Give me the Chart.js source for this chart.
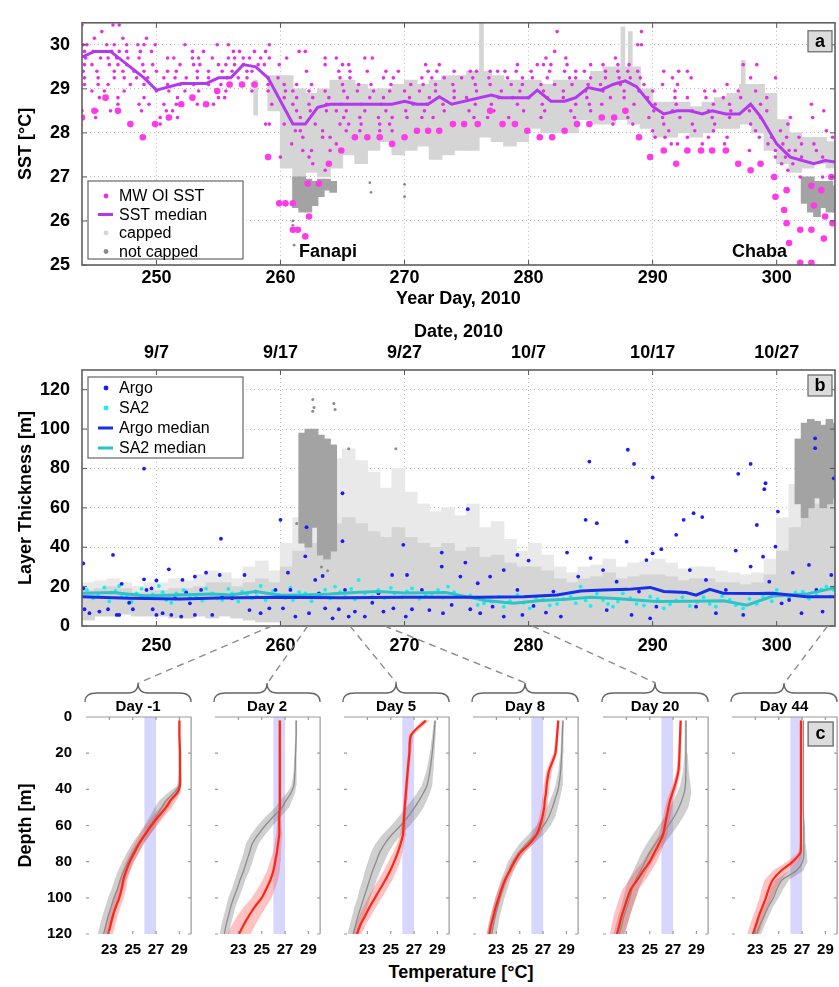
<!DOCTYPE html>
<html>
<head>
<meta charset="utf-8">
<script src="https://cdn.jsdelivr.net/npm/chart.js@4.4.1/dist/chart.umd.min.js"></script>
<style>
  body { margin: 0; width: 839px; height: 987px; position: relative; overflow: hidden; background: #fff;
         font-family: "Liberation Sans", Arial, sans-serif; }
  canvas { position: absolute; }
  #tempTitle { position: absolute; left: 331px; top: 962px; width: 260px; text-align: center;
               font-weight: bold; font-size: 18px; color: #000; }
</style>
</head>
<body>
<canvas id="sstChart" width="839" height="318" style="left:0;top:0"></canvas>
<canvas id="layerChart" width="839" height="345" style="left:0;top:315px"></canvas>
<div id="tempTitle">Temperature [°C]</div>
<canvas id="overlay" width="839" height="987" style="left:0;top:0;pointer-events:none"></canvas>
<script>
// ---------- shared ticks ----------
const dayTicks = [250, 260, 270, 280, 290, 300];
const dateLabels = ['9/7', '9/17', '9/27', '10/7', '10/17', '10/27'];
const sstTicks = [25, 26, 27, 28, 29, 30];
const thickTicks = [0, 20, 40, 60, 80, 100, 120];
const depthTicks = [0, 20, 40, 60, 80, 100, 120];
const tempTicks = [23, 25, 27, 29];

// ---------- panel a: SST ----------
const medianDays = [244, 245, 246.3, 249, 250, 252, 254, 255, 256, 257, 258, 259, 261, 262, 263, 264, 269, 270, 271, 271.9,
  272.8, 273.8, 277, 277.8, 280, 280.7, 281.8, 282.9, 283.8, 284.8, 285.8, 286.8, 287.8, 288.7, 290, 290.9, 292, 293, 294,
  294.8, 295.9, 297, 297.9, 298.7, 300, 301.1, 303, 303.9, 304.9];
const medianSST = [29.72, 29.85, 29.85, 29.25, 28.97, 29.12, 29.12, 29.25, 29.25, 29.55, 29.5, 29.25, 28.2, 28.2, 28.58, 28.65,
  28.65, 28.72, 28.65, 28.65, 28.82, 28.65, 28.86, 28.8, 28.8, 28.97, 28.72, 28.72, 28.8, 29.03, 28.97, 29.1, 29.18, 29.05,
  28.6, 28.43, 28.5, 28.5, 28.43, 28.5, 28.43, 28.43, 28.65, 28.37, 27.75, 27.45, 27.3, 27.37, 27.33];

// small MW OI SST dots sit on 0.15 degC levels
const mwLevels = [30.45, 30.3, 30.15, 30.0, 29.85, 29.7, 29.55, 29.4, 29.25, 29.1, 28.95, 28.8, 28.65, 28.5, 28.35, 28.2,
  28.05, 27.9, 27.75, 27.6, 27.45, 27.3, 27.15, 27.0];
const mwDays = [
  [244.0, 246.5, 247.0],
  [245.6, 289.1, 282.3],
  [245.0, 247.3, 249.2],
  [244.1, 244.4, 246.0, 246.6, 247.6, 248.5, 249.0, 249.9, 252.3, 254.9, 255.8, 259.1, 288.8, 289.1],
  [244.2, 244.9, 246.4, 247.0, 247.6, 248.7, 249.6, 252.9, 253.8, 256.2, 256.7, 257.9, 258.8, 261.5, 262.0, 282.1],
  [244.3, 245.5, 246.1, 246.8, 247.7, 248.6, 250.9, 251.4, 252.9, 253.4, 254.5, 255.8, 256.3, 257.0, 257.5, 258.4, 259.1,
   260.5, 263.6, 264.5, 266.8, 267.4, 281.4, 283.0, 287.0],
  [244.2, 244.8, 246.2, 246.9, 247.6, 248.9, 249.7, 251.9, 253.0, 253.5, 255.0, 255.6, 256.3, 257.0, 258.2, 258.7, 259.9,
   263.6, 265.0, 265.5, 271.7, 272.8, 279.1, 280.7, 281.2, 281.8, 283.1, 285.0, 286.0, 287.2, 288.1, 297.3, 298.4],
  [244.1, 245.2, 246.6, 247.3, 248.2, 249.0, 250.0, 250.9, 251.6, 253.3, 254.2, 255.3, 256.1, 257.3, 257.7, 262.1, 264.7,
   265.6, 267.0, 268.5, 269.5, 271.9, 272.6, 274.0, 275.3, 275.8, 276.9, 277.5, 278.1, 279.0, 280.2, 281.7, 282.9, 283.8,
   284.5, 286.2, 287.2, 288.0, 288.8, 290.9, 292.1, 292.8],
  [244.2, 245.3, 246.6, 247.4, 248.4, 249.3, 250.6, 251.5, 252.4, 253.3, 254.2, 255.7, 256.6, 257.3, 259.0, 259.8, 264.8,
   265.6, 268.3, 269.1, 271.4, 272.2, 273.2, 274.6, 275.5, 276.8, 278.3, 279.5, 280.3, 281.5, 283.3, 283.8, 285.0, 286.2,
   287.3, 288.2, 289.0, 291.6, 293.1, 297.9, 299.9],
  [244.2, 245.3, 246.1, 247.9, 249.0, 250.9, 251.9, 253.0, 254.2, 255.2, 255.8, 256.8, 258.0, 259.0, 260.3, 261.3, 262.5,
   265.0, 266.3, 267.3, 268.9, 270.5, 271.5, 272.5, 273.9, 275.7, 276.9, 278.6, 279.5, 281.0, 282.1, 283.5, 284.8, 285.8,
   287.4, 289.3, 290.8, 292.0, 296.0],
  [244.8, 245.8, 247.4, 250.0, 251.0, 252.3, 253.4, 255.6, 257.7, 259.0, 260.4, 261.0, 262.3, 263.6, 265.1, 266.2, 267.5,
   268.8, 270.0, 271.2, 272.5, 274.0, 275.8, 277.8, 279.3, 281.2, 282.8, 284.6, 286.0, 287.7, 288.9, 290.0, 291.8, 294.2,
   295.0, 296.9, 298.3],
  [245.4, 246.9, 249.0, 251.7, 255.0, 255.5, 260.3, 261.3, 262.6, 263.9, 265.4, 267.2, 268.3, 270.4, 272.0, 274.0, 275.0,
   277.6, 278.7, 280.0, 281.5, 282.8, 284.7, 286.6, 287.7, 289.6, 291.8, 292.8, 294.3, 295.7, 297.1, 299.2],
  [246.9, 248.6, 249.4, 250.6, 251.6, 253.3, 254.0, 254.6, 259.3, 261.0, 262.3, 263.7, 264.9, 266.5, 268.1, 270.7, 271.8,
   273.1, 275.7, 277.0, 279.1, 281.1, 283.8, 284.9, 285.9, 288.5, 290.2, 291.9, 294.9, 296.2, 298.7, 302.8],
  [244.0, 245.2, 246.3, 248.8, 250.8, 251.3, 261.3, 262.4, 263.7, 264.5, 265.3, 266.8, 268.5, 270.1, 271.6, 273.2, 275.2,
   277.2, 279.6, 281.3, 283.4, 285.0, 287.9, 290.1, 291.6, 293.2, 294.5, 296.3, 297.8, 299.2, 303.8],
  [245.1, 250.3, 251.0, 251.7, 261.6, 265.1, 266.4, 267.9, 269.0, 270.2, 271.4, 272.3, 275.6, 276.7, 278.4, 281.0, 283.7,
   288.0, 289.7, 290.8, 292.2, 294.8, 296.2, 298.7, 301.1, 302.9],
  [250.3, 258.8, 259.1, 260.3, 262.8, 264.8, 265.5, 266.5, 268.0, 268.8, 286.8, 288.4, 290.9, 293.2, 295.0, 297.9, 300.9],
  [261.2, 261.6, 263.4, 265.3, 266.4, 268.0, 269.0, 290.0, 291.3, 293.4, 294.9, 298.3, 300.3, 304.0],
  [261.8, 263.4, 264.0, 265.9, 290.2, 291.0, 292.8, 294.5, 296.0, 298.6, 299.6, 300.8, 301.8, 304.5],
  [260.9, 264.5, 291.5, 292.0, 294.0, 295.8, 299.3, 300.5, 302.0, 303.0],
  [261.8, 262.5, 264.0, 297.8, 299.9, 301.0, 301.5, 303.2],
  [260.0, 262.3, 299.9, 300.7, 302.0, 303.7],
  [262.6, 300.4, 301.3],
  [263.6, 300.9],
  [301.9, 303.7]
];
const mwBigDays = [244.0, 245.0, 245.9, 246.9, 247.9, 248.9, 249.9, 251.0, 252.0, 252.9, 254.0, 254.9, 255.9, 256.9, 257.9,
  259.0, 259.9, 260.4, 261.0, 261.0, 261.4, 262.0, 262.3, 262.2, 263.1, 263.9, 264.9, 266.0, 267.0, 268.0, 269.0, 270.0,
  271.0, 271.9, 272.8, 273.9, 274.8, 275.9, 276.9, 277.9, 278.9, 279.9, 280.9, 281.9, 282.9, 283.9, 284.9, 285.9, 286.9,
  287.8, 288.9, 289.8, 290.9, 291.9, 292.8, 293.9, 294.8, 295.9, 296.9, 297.9, 298.7, 299.8, 299.9, 300.6, 300.8, 300.8,
  301.0, 301.9, 301.9, 302.8, 302.8, 303.0, 302.8, 303.6, 303.8, 303.9, 304.4, 304.5];
const mwBigSST = [28.35, 28.5, 28.8, 28.5, 28.2, 27.9, 28.2, 28.35, 28.65, 28.8, 28.65, 28.95, 29.1, 29.1, 29.1,
  27.45, 26.4, 26.4, 26.4, 25.8, 25.8, 25.65, 26.1, 26.85, 26.85, 27.3, 27.6, 27.9, 27.9, 27.9, 27.75, 27.9,
  28.05, 28.05, 28.05, 28.2, 28.2, 28.2, 28.5, 28.2, 28.2, 28.05, 27.9, 27.9, 28.05, 28.2, 28.2, 28.35, 28.35,
  28.5, 27.9, 27.45, 27.6, 27.3, 27.6, 27.6, 27.6, 27.6, 27.3, 27.15, 27.3, 27.0, 26.55, 26.25, 26.7, 25.95,
  25.5, 25.8, 25.05, 25.05, 25.8, 26.35, 26.8, 26.7, 25.6, 26.1, 27.0, 25.95];

// glider SST cloud, one-day bins: centre, min, max
const capDaysA = [259.5, 260.5, 261.5, 262.5, 263.5, 264.5, 265.5, 266.5, 267.5, 268.5, 269.5, 270.5, 271.5, 272.5, 273.5,
  274.5, 275.5, 276.5, 277.5, 278.5, 279.5, 280.5, 281.5, 282.5, 283.5, 284.5, 285.5, 286.5, 287.5, 288.5, 289.5, 290.5,
  291.5, 292.5, 293.5, 294.5, 295.5, 296.5, 297.5, 298.5, 299.5, 300.5, 301.5, 302.5, 303.5, 304.5];
const capLoA = [28.5, 27.2, 27.0, 27.1, 27.0, 27.2, 27.5, 27.3, 27.6, 27.8, 27.5, 27.6, 27.7, 27.4, 27.5,
  27.6, 27.6, 27.9, 27.8, 27.7, 27.8, 28.1, 28.0, 28.0, 28.0, 28.3, 28.2, 28.2, 28.3, 28.2, 28.1, 27.9,
  27.9, 28.0, 27.9, 28.0, 28.1, 28.1, 28.2, 28.0, 27.6, 27.3, 27.1, 27.2, 27.3, 27.2];
const capHiA = [29.3, 29.3, 29.0, 28.9, 29.0, 29.2, 29.2, 29.1, 29.0, 29.0, 29.1, 29.2, 29.1, 29.2, 29.3,
  29.3, 29.4, 29.4, 29.3, 29.2, 29.2, 29.2, 29.1, 29.2, 29.2, 29.2, 29.4, 29.5, 29.5, 29.5, 29.0, 28.7,
  28.7, 28.7, 28.6, 28.7, 28.8, 28.9, 29.1, 29.1, 28.9, 28.3, 28.0, 27.9, 27.9, 27.8];
const capSpikeDaysA = [258.0, 276.2, 287.6, 288.2, 297.3];
const capSpikeLoA = [28.4, 29.2, 29.3, 29.3, 28.9];
const capSpikeHiA = [29.2, 30.5, 30.4, 30.3, 29.65];
// not capped, half-day bins
const ncDaysA = [261.25, 261.75, 262.25, 262.75, 263.25, 263.75, 264.25, 302.25, 302.75, 303.25, 303.75, 304.25, 304.75];
const ncLoA = [26.3, 26.2, 26.2, 26.35, 26.55, 26.7, 26.65, 26.4, 26.2, 26.1, 26.3, 26.2, 26.2];
const ncHiA = [27.0, 27.0, 26.95, 26.9, 26.95, 26.95, 26.9, 27.0, 27.0, 26.9, 26.9, 26.9, 26.8];
const ncDotDaysA = [261.0, 261.0, 261.1, 267.2, 267.3, 270.0, 270.0];
const ncDotSSTA = [26.0, 25.9, 25.45, 26.87, 26.65, 26.83, 26.55];

// ---------- panel b: layer thickness ----------
const argoDays = [244.1, 244.1, 244.2, 244.6, 245.4, 246.1, 246.5, 246.8, 247.0, 247.2, 247.8, 248.1, 249.0, 249.0, 249.2,
  249.6, 249.7, 250.0, 250.0, 250.5, 251.0, 251.2, 251.5, 252.0, 252.1, 252.4, 252.7, 253.1, 253.1, 253.6, 254.0, 254.5,
  255.1, 255.2, 255.3, 256.1, 257.1, 257.5, 258.0, 258.4, 259.1, 259.6, 260.0, 260.2, 260.6, 260.8, 261.2, 262.1, 262.0,
  262.3, 262.8, 263.1, 263.4, 263.6, 264.2, 264.7, 265.0, 265.0, 265.2, 265.5, 266.0, 266.8, 267.4, 267.9, 268.3, 269.0,
  269.1, 269.9, 270.1, 270.2, 270.6, 271.4, 272.0, 273.0, 273.0, 273.1, 273.8, 274.5, 274.9, 275.1, 275.3, 275.9, 276.1,
  276.9, 277.1, 278.0, 278.0, 279.1, 279.1, 279.5, 280.0, 280.4, 281.4, 282.0, 282.6, 283.1, 284.0, 284.6, 284.9, 285.0,
  285.5, 286.0, 286.3, 287.1, 287.9, 288.0, 288.3, 288.5, 288.9, 289.5, 289.8, 290.0, 290.0, 290.3, 290.7, 291.9, 292.5,
  293.0, 293.3, 293.5, 294.0, 294.3, 295.1, 295.9, 296.7, 296.9, 297.3, 297.9, 297.9, 298.4, 298.9, 299.0, 299.1, 299.4,
  299.9, 300.1, 300.4, 301.0, 301.3, 302.0, 302.6, 303.1, 303.1, 303.2, 303.7, 304.4, 304.6];
const argoThick = [19.1, 31.8, 8.5, 6.5, 7.3, 8.5, 36.1, 5.6, 5.6, 21.4, 11.8, 8.5, 79.9, 23.7, 18.3,
  19.1, 8.5, 23.1, 5.6, 6.5, 28.8, 5.6, 14.1, 4.8, 23.4, 17.0, 11.5, 25.1, 5.6, 18.3, 27.1, 5.6,
  25.9, 44.3, 15.4, 14.1, 25.9, 8.1, 17.5, 6.5, 9.0, 18.3, 53.9, 9.0, 27.1, 18.3, 4.8, 50.2, 35.4,
  6.5, 23.4, 16.6, 25.4, 9.0, 3.9, 8.5, 67.4, 43.1, 18.3, 4.8, 7.3, 4.8, 11.8, 16.6, 7.3, 25.9,
  9.0, 41.2, 4.8, 25.9, 8.5, 18.3, 8.1, 37.3, 30.2, 6.5, 10.7, 25.1, 32.2, 59.3, 8.5, 21.7, 6.5,
  25.1, 9.8, 28.4, 4.8, 36.1, 18.3, 5.6, 33.2, 10.2, 6.8, 17.5, 4.8, 37.3, 25.1, 53.9, 83.5, 34.5,
  52.2, 28.4, 8.1, 22.5, 42.8, 89.5, 5.6, 82.3, 17.5, 33.5, 3.9, 75.4, 36.9, 9.8, 39.0, 46.3, 53.9,
  28.4, 57.3, 9.8, 55.3, 23.4, 6.5, 18.3, 38.3, 77.3, 5.6, 82.3, 30.2, 51.3, 35.2, 69.5, 72.5, 22.5,
  40.3, 58.1, 11.5, 13.2, 27.1, 6.5, 31.0, 95.3, 90.3, 18.3, 7.3, 25.9, 75.0];
const sa2Days = [244.4, 244.9, 245.3, 245.8, 246.2, 246.7, 247.0, 247.2, 247.6, 248.0, 248.4, 248.8, 249.2, 249.7, 250.2,
  250.5, 250.8, 251.2, 251.6, 252.2, 252.7, 253.2, 253.7, 254.0, 254.5, 254.9, 255.3, 255.8, 256.1, 256.6, 256.9, 257.3,
  257.7, 258.1, 258.4, 258.8, 259.4, 259.9, 260.4, 260.8, 261.0, 261.5, 262.0, 262.5, 263.1, 263.6, 264.0, 264.4, 264.8,
  265.2, 265.7, 266.0, 266.3, 266.8, 267.4, 267.9, 268.4, 268.9, 269.2, 269.8, 270.2, 270.6, 271.2, 271.7, 272.2, 272.7,
  273.1, 273.5, 274.0, 274.5, 275.3, 275.9, 276.4, 277.0, 277.6, 278.0, 278.5, 279.1, 279.6, 280.1, 280.6, 281.2, 281.7,
  282.3, 282.8, 283.4, 283.8, 284.2, 284.6, 285.0, 285.5, 286.0, 286.4, 286.8, 287.2, 287.6, 288.2, 288.7, 289.3, 289.8,
  290.4, 290.9, 291.4, 291.9, 292.4, 293.0, 293.6, 294.1, 294.6, 295.1, 295.6, 296.2, 296.7, 297.3, 297.8, 298.4, 298.9,
  299.2, 299.6, 300.0, 300.5, 301.0, 301.5, 302.1, 302.6, 303.2, 303.6, 304.0, 304.3, 304.6];
const sa2Thick = [18.3, 14.0, 16.2, 19.6, 12.5, 17.8, 20.3, 14.9, 15.5, 12.2, 16.6, 18.9, 14.6, 16.0, 20.3,
  17.2, 13.2, 11.8, 16.6, 18.2, 14.6, 15.0, 12.9, 19.0, 16.6, 14.0, 13.2, 18.8, 16.6, 12.4, 17.5, 16.0,
  14.1, 15.2, 20.3, 13.2, 17.8, 15.8, 14.2, 19.5, 13.2, 17.2, 16.6, 12.6, 15.8, 18.4, 14.0, 20.0, 17.2,
  14.9, 18.8, 13.5, 23.4, 16.6, 15.0, 18.3, 14.2, 19.4, 16.6, 14.5, 17.6, 19.1, 13.8, 15.8, 16.4, 18.3,
  14.4, 20.0, 17.2, 14.9, 15.5, 10.7, 11.5, 12.4, 14.8, 9.8, 12.6, 15.8, 11.8, 9.0, 14.4, 13.2, 10.5,
  11.2, 13.8, 14.9, 11.6, 20.0, 13.0, 10.2, 16.4, 13.2, 11.2, 9.8, 12.4, 16.6, 14.2, 11.2, 10.4, 14.9,
  13.6, 9.0, 11.0, 12.9, 14.6, 10.2, 12.2, 14.6, 11.2, 9.8, 15.2, 13.2, 10.6, 9.0, 13.8, 11.2, 14.8,
  16.6, 12.6, 18.3, 15.8, 14.6, 17.0, 17.5, 13.8, 15.8, 18.6, 20.0, 15.0, 18.3];
const argoMedDays = [244, 247.8, 251.9, 255, 259.9, 265, 270, 273.3, 276, 279.6, 282.3, 284.2, 286, 288, 289.8, 290.9, 292.7,
  293.5, 294.6, 295.7, 298.4, 299.7, 302.4, 304.9];
const argoMedThick = [14.9, 14.1, 13.7, 14.2, 14.6, 14.3, 14.6, 14.6, 14.6, 14.9, 15.7, 17.8, 18.3, 18.6, 19.6, 17.5, 17.0,
  15.7, 18.6, 16.6, 16.5, 16.6, 14.9, 14.9];
const sa2MedDays = [244, 246.5, 249, 251, 254.5, 256, 258, 260, 262, 264, 266, 267.9, 270, 273.3, 274.3, 276.5, 278.8, 281,
  283, 285, 287, 290.3, 293, 295.7, 297.6, 299.7, 302.4, 304.9];
const sa2MedThick = [16.6, 17.0, 15.4, 15.6, 16.2, 15.8, 17.5, 15.6, 15.8, 16.2, 17.0, 17.5, 16.8, 17.0, 15.8, 13.0, 11.5,
  13.0, 13.6, 14.6, 14.0, 12.4, 12.6, 12.8, 10.6, 15.2, 16.2, 19.7];
// glider layer-thickness cloud: dense core (lo..mid) and sparse tops (mid..hi)
const capDaysB = [244.5, 245.5, 246.5, 247.5, 248.5, 249.5, 250.5, 251.5, 252.5, 253.5, 254.5, 255.5, 256.5, 257.5, 258.5,
  259.5, 260.5, 261.5, 262.5, 263.5, 264.5, 265.5, 266.5, 267.5, 268.5, 269.5, 270.5, 271.5, 272.5, 273.5, 274.5, 275.5,
  276.5, 277.5, 278.5, 279.5, 280.5, 281.5, 282.5, 283.5, 284.5, 285.5, 286.5, 287.5, 288.5, 289.5, 290.5, 291.5, 292.5,
  293.5, 294.5, 295.5, 296.5, 297.5, 298.5, 299.5, 300.5, 301.5, 302.5, 303.5, 304.5];
const capLoB = [3, 5, 5, 6, 5, 5, 5, 4, 4, 5, 4, 5, 4, 3, 2, 2, 0, 0, 0, 0, 0, 0, 0, 0, 0, 0, 0, 0, 0, 0, 0, 0, 0, 0, 0, 0,
  0, 0, 0, 0, 0, 0, 0, 0, 0, 0, 0, 0, 0, 0, 0, 0, 0, 0, 0, 0, 0, 0, 0, 0, 0];
const capMidB = [18, 19, 20, 19, 17, 18, 18, 19, 19, 20, 22, 22, 20, 22, 24, 22,
  30, 38, 42, 48, 52, 55, 52, 48, 45, 50, 45, 42, 40, 42, 38, 40, 35, 36, 32, 30,
  30, 28, 24, 22, 24, 25, 27, 24, 25, 26, 26, 25, 23, 24, 24, 22, 22, 21, 22, 26,
  38, 50, 60, 62, 65];
const capHiB = [22, 23, 24, 22, 20, 22, 22, 24, 23, 26, 28, 27, 24, 30, 33, 28, 42, 55, 62, 75, 85, 90, 84, 78, 70, 80, 68,
  62, 58, 60, 56, 62, 50, 53, 44, 38, 42, 36, 30, 27, 30, 31, 34, 30, 32, 33, 34, 32, 29, 30, 30, 28, 27, 26, 27, 34, 55,
  72, 92, 98, 102];
const ncDaysB = [261.75, 262.25, 262.75, 263.25, 263.75, 264.25, 301.75, 302.25, 302.75, 303.25, 303.75, 304.25, 304.75];
const ncLoB = [42, 40, 50, 36, 34, 38, 62, 55, 60, 65, 60, 62, 65];
const ncHiB = [98, 100, 100, 97, 95, 92, 95, 103, 105, 104, 102, 105, 103];
const ncDotDaysB = [262.6, 262.7, 262.6, 264.3, 264.4, 265.5, 269.3, 261.3, 263.3, 263.8];
const ncDotThickB = [115, 111, 109, 113, 110, 90, 90, 52, 30, 28];

// ---------- panel c: profiles ----------
const profileLabels = ['Day -1', 'Day 2', 'Day 5', 'Day 8', 'Day 20', 'Day 44'];
const connectDays = [259.3, 262.2, 265.6, 268.4, 280.3, 304.1];
const profDepth = [2, 10, 20, 30, 38, 42, 46, 50, 55, 60, 65, 70, 75, 80, 85, 90, 95, 100, 105, 110, 115, 120];
const mldBand = [26, 27];
const depthRange = [0, 120];
const redTemps = [
  [29.0, 29.0, 29.05, 29.05, 29.05, 28.8, 28.25, 27.85, 27.2, 26.6, 26.05, 25.55, 25.15, 24.75, 24.45, 24.2, 24.05, 23.85, 23.55, 23.3, 23.1, 22.9],
  [26.55, 26.55, 26.55, 26.55, 26.55, 26.55, 26.55, 26.55, 26.5, 26.5, 26.5, 26.4, 26.3, 26.15, 26.0, 25.75, 25.4, 25.0, 24.4, 23.9, 23.45, 23.05],
  [28.0, 26.75, 26.6, 26.45, 26.35, 26.3, 26.25, 26.2, 26.15, 26.1, 26.05, 25.85, 25.6, 25.3, 24.95, 24.55, 24.1, 23.65, 23.2, 22.8, 22.4, 22.1],
  [28.3, 28.2, 28.05, 27.5, 27.3, 27.25, 27.15, 27.1, 26.95, 26.75, 26.45, 25.85, 25.05, 24.55, 24.15, 23.75, 23.45, 23.2, 22.95, 22.75, 22.55, 22.4],
  [27.65, 27.6, 27.55, 27.45, 27.15, 26.95, 26.75, 26.6, 26.45, 26.3, 26.15, 25.8, 25.4, 25.0, 24.45, 23.95, 23.4, 23.1, 22.85, 22.6, 22.4, 22.2],
  [26.9, 26.9, 26.9, 26.9, 26.9, 26.9, 26.9, 26.9, 26.9, 26.9, 26.9, 26.9, 26.85, 26.2, 25.2, 24.5, 24.15, 23.9, 23.6, 23.3, 23.05, 22.8]
];
const redSpread = [
  [0.05, 0.05, 0.05, 0.05, 0.1, 0.3, 0.5, 0.5, 0.5, 0.5, 0.45, 0.4, 0.4, 0.35, 0.35, 0.35, 0.4, 0.4, 0.4, 0.4, 0.4, 0.4],
  [0.12, 0.12, 0.12, 0.12, 0.12, 0.12, 0.12, 0.15, 0.15, 0.2, 0.25, 0.3, 0.35, 0.45, 0.55, 0.65, 0.75, 0.85, 0.95, 1.0, 1.0, 1.0],
  [0.3, 0.2, 0.15, 0.15, 0.15, 0.15, 0.15, 0.15, 0.15, 0.2, 0.25, 0.3, 0.4, 0.5, 0.55, 0.6, 0.6, 0.6, 0.55, 0.5, 0.45, 0.4],
  [0.1, 0.12, 0.15, 0.25, 0.25, 0.25, 0.25, 0.25, 0.28, 0.3, 0.32, 0.35, 0.3, 0.28, 0.25, 0.25, 0.25, 0.25, 0.25, 0.25, 0.25, 0.25],
  [0.1, 0.1, 0.12, 0.15, 0.22, 0.25, 0.28, 0.3, 0.3, 0.3, 0.35, 0.45, 0.55, 0.6, 0.7, 0.7, 0.7, 0.7, 0.7, 0.7, 0.65, 0.6],
  [0.08, 0.08, 0.08, 0.08, 0.08, 0.08, 0.08, 0.08, 0.08, 0.08, 0.1, 0.12, 0.2, 0.5, 0.7, 0.7, 0.6, 0.55, 0.5, 0.5, 0.5, 0.5]
];
const grayTemps = [
  [29.0, 29.0, 29.0, 29.0, 28.95, 28.5, 27.9, 27.5, 27.0, 26.5, 26.0, 25.45, 25.0, 24.6, 24.25, 23.95, 23.7, 23.4, 23.15, 22.9, 22.7, 22.5],
  [27.95, 27.95, 27.9, 27.85, 27.75, 27.5, 27.1, 26.75, 26.0, 25.3, 24.7, 24.2, 23.95, 23.7, 23.45, 23.15, 22.9, 22.6, 22.35, 22.15, 21.95, 21.8],
  [28.8, 28.7, 28.55, 28.35, 28.1, 27.8, 27.45, 27.05, 26.5, 25.85, 25.1, 24.5, 24.05, 23.75, 23.45, 23.2, 22.95, 22.7, 22.45, 22.2, 22.0, 21.8],
  [28.7, 28.65, 28.6, 28.5, 28.35, 28.2, 28.0, 27.8, 27.5, 27.05, 26.4, 25.6, 24.95, 24.45, 24.1, 23.8, 23.55, 23.3, 23.1, 22.9, 22.75, 22.6],
  [28.1, 28.1, 28.1, 28.1, 28.05, 27.95, 27.75, 27.5, 27.1, 26.6, 26.05, 25.5, 25.0, 24.6, 24.2, 23.8, 23.5, 23.3, 23.05, 22.8, 22.6, 22.4],
  [27.1, 27.1, 27.1, 27.1, 27.1, 27.1, 27.1, 27.1, 27.12, 27.15, 27.15, 27.15, 27.15, 27.05, 26.5, 25.3, 24.85, 24.55, 24.1, 23.75, 23.4, 23.1]
];
const graySpread = [
  [0.05, 0.05, 0.05, 0.05, 0.15, 0.5, 0.6, 0.6, 0.55, 0.5, 0.5, 0.5, 0.5, 0.5, 0.5, 0.5, 0.5, 0.5, 0.5, 0.5, 0.5, 0.5],
  [0.08, 0.08, 0.1, 0.12, 0.2, 0.35, 0.5, 0.6, 0.65, 0.65, 0.6, 0.55, 0.5, 0.5, 0.5, 0.45, 0.45, 0.45, 0.4, 0.4, 0.4, 0.4],
  [0.1, 0.15, 0.2, 0.3, 0.45, 0.55, 0.65, 0.75, 0.8, 0.8, 0.8, 0.8, 0.75, 0.7, 0.65, 0.6, 0.6, 0.55, 0.55, 0.5, 0.5, 0.5],
  [0.1, 0.1, 0.12, 0.2, 0.3, 0.35, 0.4, 0.45, 0.55, 0.6, 0.65, 0.6, 0.5, 0.45, 0.4, 0.4, 0.4, 0.4, 0.4, 0.4, 0.4, 0.4],
  [0.1, 0.1, 0.15, 0.25, 0.45, 0.6, 0.7, 0.8, 0.8, 0.8, 0.8, 0.75, 0.7, 0.65, 0.6, 0.6, 0.55, 0.55, 0.5, 0.5, 0.5, 0.5],
  [0.08, 0.08, 0.08, 0.08, 0.08, 0.08, 0.08, 0.08, 0.08, 0.1, 0.12, 0.15, 0.25, 0.4, 0.6, 0.6, 0.55, 0.45, 0.4, 0.4, 0.4, 0.4]
];

// ---------- helpers ----------
const FONT = '"Liberation Sans", Arial, Helvetica, sans-serif';
Chart.defaults.font.family = FONT;
Chart.defaults.color = '#000';
Chart.defaults.animation = false;
Chart.defaults.plugins.legend.display = false;
Chart.defaults.plugins.tooltip.enabled = false;

const pts = (xs, ys) => xs.map((x, i) => ({ x, y: ys[i] }));
const ranges = (xs, lo, hi) => xs.map((x, i) => ({ x, y: [lo[i], hi[i]] }));
const fixedTicks = vals => s => { s.ticks = vals.map(v => ({ value: v })); };
const bold = size => ({ size, weight: 'bold' });

const CAP = '#d5d5d5', CAP_SPARSE = '#e9e9e9', NOCAP = '#a3a3a3';

const mwSmall = [];
mwLevels.forEach((lv, i) => mwDays[i].forEach(d => mwSmall.push({ x: d, y: lv })));

function dots(label, data, color, r, order) {
  return { type: 'scatter', label, data, pointBackgroundColor: color, pointBorderWidth: 0,
           pointRadius: r, showLine: false, order };
}
function cloud(label, data, color, thick, order) {
  return { type: 'bar', label, data, backgroundColor: color, borderWidth: 0, barThickness: thick,
           grouped: false, order };
}
function medianLine(label, data, color, order) {
  return { type: 'line', label, data, borderColor: color, borderWidth: 3, pointRadius: 0, tension: 0, fill: false, order };
}

// frame, inner ticks, legend and notes for the two time-series panels
const panelFrame = {
  id: 'panelFrame',
  afterDraw(chart, args, o) {
    const { ctx, chartArea: a } = chart;
    const xs = chart.scales.x, ys = chart.scales.y;
    ctx.save();
    ctx.strokeStyle = '#555';
    ctx.lineWidth = 1;
    ctx.beginPath();
    xs.ticks.forEach(t => {
      const x = xs.getPixelForValue(t.value);
      ctx.moveTo(x, a.bottom); ctx.lineTo(x, a.bottom - 5);
      ctx.moveTo(x, a.top); ctx.lineTo(x, a.top + 5);
    });
    ys.ticks.forEach(t => {
      const y = ys.getPixelForValue(t.value);
      ctx.moveTo(a.left, y); ctx.lineTo(a.left + 5, y);
      ctx.moveTo(a.right, y); ctx.lineTo(a.right - 5, y);
    });
    ctx.stroke();
    ctx.lineWidth = 1.6;
    ctx.strokeStyle = '#606060';
    ctx.strokeRect(a.left, a.top, a.right - a.left, a.bottom - a.top);

    // notes (storm names)
    ctx.fillStyle = '#000';
    ctx.textBaseline = 'alphabetic';
    ctx.textAlign = 'left';
    ctx.font = `bold 18px ${FONT}`;
    (o.notes || []).forEach(n => ctx.fillText(n.text, xs.getPixelForValue(n.x), ys.getPixelForValue(n.y)));

    // legend
    const L = o.legend;
    const bx = a.left + 6, by = L.fromBottom ? a.bottom - L.h - 6 : a.top + 7;
    ctx.fillStyle = '#fff';
    ctx.fillRect(bx, by, 155, L.h);
    ctx.strokeStyle = '#666';
    ctx.lineWidth = 1.2;
    ctx.strokeRect(bx, by, 155, L.h);
    ctx.font = `16px ${FONT}`;
    ctx.textBaseline = 'middle';
    L.items.forEach((it, i) => {
      const y = by + L.first + i * L.step;
      const mx = bx + 18;
      if (it.kind === 'line') {
        ctx.strokeStyle = it.color; ctx.lineWidth = 3;
        ctx.beginPath(); ctx.moveTo(mx - 8, y); ctx.lineTo(mx + 7, y); ctx.stroke();
      } else {
        ctx.fillStyle = it.color;
        ctx.beginPath(); ctx.arc(mx, y, 2.4, 0, Math.PI * 2); ctx.fill();
      }
      ctx.fillStyle = '#000';
      ctx.fillText(it.label, bx + 31, y + 1);
    });

    // panel letter
    const lx = a.right - 27, ly = a.top + o.letterTop;
    ctx.fillStyle = '#dcdcdc';
    ctx.fillRect(lx, ly, 24, 21);
    ctx.strokeStyle = '#666';
    ctx.lineWidth = 1.2;
    ctx.strokeRect(lx, ly, 24, 21);
    ctx.fillStyle = '#000';
    ctx.font = `bold 18px ${FONT}`;
    ctx.textAlign = 'center';
    ctx.fillText(o.letter, lx + 12, ly + 11);
    ctx.restore();
  }
};

const gridStyle = { color: '#bcbcbc', lineWidth: 1, drawTicks: false, offset: false };
const borderStyle = { display: false, dash: [1, 3] };

// ---------- panel a ----------
const sstChart = new Chart(document.getElementById('sstChart'), {
  type: 'scatter',
  data: {
    datasets: [
      medianLine('SST median', pts(medianDays, medianSST), '#b438ee', 0),
      dots('MW OI SST (large)', pts(mwBigDays, mwBigSST), '#ff3ae8', 3.3, 1),
      dots('MW OI SST', mwSmall, '#e62ee8', 1.8, 2),
      dots('not capped', pts(ncDotDaysA, ncDotSSTA), '#8a8a8a', 1.4, 3),
      cloud('not capped', ranges(ncDaysA, ncLoA, ncHiA), NOCAP, 7, 4),
      cloud('capped', ranges(capSpikeDaysA, capSpikeLoA, capSpikeHiA), CAP, 4, 5),
      cloud('capped', ranges(capDaysA, capLoA, capHiA), CAP, 13, 6)
    ]
  },
  options: {
    responsive: false, devicePixelRatio: 1,
    layout: { padding: { top: 9, right: 1, left: 0, bottom: 0 } },
    scales: {
      x: {
        type: 'linear', min: 244, max: 304.7, offset: false,
        afterFit: s => { s.height = 53; },
        afterBuildTicks: fixedTicks(dayTicks),
        grid: gridStyle, border: borderStyle,
        ticks: { font: bold(18), padding: 2, autoSkip: false, maxRotation: 0 },
        title: { display: true, text: 'Year Day, 2010', font: bold(18), padding: { top: 0, bottom: 8 } }
      },
      y: {
        type: 'linear', min: 25, max: 30.5,
        afterFit: s => { s.width = 82; },
        afterBuildTicks: fixedTicks(sstTicks),
        grid: gridStyle, border: borderStyle,
        ticks: { font: bold(18), padding: 12 },
        title: { display: true, text: 'SST [°C]', font: bold(18), padding: { top: 15, bottom: 0 } }
      }
    },
    plugins: {
      panelFrame: {
        letter: 'a', letterTop: 8,
        notes: [{ text: 'Fanapi', x: 261.5, y: 25.19 }, { text: 'Chaba', x: 296.4, y: 25.19 }],
        legend: {
          fromBottom: true, h: 78, first: 15, step: 18.5,
          items: [
            { kind: 'dot', color: '#e62ee8', label: 'MW OI SST' },
            { kind: 'line', color: '#b438ee', label: 'SST median' },
            { kind: 'dot', color: '#d6d6d6', label: 'capped' },
            { kind: 'dot', color: '#8a8a8a', label: 'not capped' }
          ]
        }
      }
    }
  },
  plugins: [panelFrame]
});

// ---------- panel b ----------
const layerChart = new Chart(document.getElementById('layerChart'), {
  type: 'scatter',
  data: {
    datasets: [
      medianLine('Argo median', pts(argoMedDays, argoMedThick), '#1530e6', 0),
      medianLine('SA2 median', pts(sa2MedDays, sa2MedThick), '#2cc4c4', 1),
      dots('Argo', pts(argoDays, argoThick), '#1a1aff', 1.9, 2),
      dots('SA2', pts(sa2Days, sa2Thick), '#12f0f0', 1.9, 3),
      dots('not capped', pts(ncDotDaysB, ncDotThickB), '#8a8a8a', 1.5, 4),
      cloud('not capped', ranges(ncDaysB, ncLoB, ncHiB), NOCAP, 7, 5),
      cloud('capped', ranges(capDaysB, capLoB, capMidB), CAP, 13, 6),
      cloud('capped (sparse)', ranges(capDaysB, capMidB, capHiB), CAP_SPARSE, 13, 7)
    ]
  },
  options: {
    responsive: false, devicePixelRatio: 1,
    layout: { padding: { top: 0, right: 1, left: 0, bottom: 0 } },
    scales: {
      x: {
        type: 'linear', min: 244, max: 304.7, offset: false,
        afterFit: s => { s.height = 34; },
        afterBuildTicks: fixedTicks(dayTicks),
        grid: gridStyle, border: borderStyle,
        ticks: { font: bold(18), padding: 9, autoSkip: false, maxRotation: 0 }
      },
      xTop: {
        type: 'linear', position: 'top', min: 244, max: 304.7, offset: false,
        afterFit: s => { s.height = 55; },
        afterBuildTicks: fixedTicks(dayTicks),
        grid: { display: false, drawTicks: false }, border: { display: false },
        ticks: { font: bold(18), padding: 6, autoSkip: false, maxRotation: 0,
                 callback: v => dateLabels[dayTicks.indexOf(v)] },
        title: { display: true, text: 'Date, 2010', font: bold(18), padding: { top: 6, bottom: 0 } }
      },
      y: {
        type: 'linear', min: 0, max: 130,
        afterFit: s => { s.width = 82; },
        afterBuildTicks: fixedTicks(thickTicks),
        grid: gridStyle, border: borderStyle,
        ticks: { font: bold(18), padding: 12 },
        title: { display: true, text: 'Layer Thickness [m]', font: bold(18), padding: { top: 15, bottom: 0 } }
      }
    },
    plugins: {
      panelFrame: {
        letter: 'b', letterTop: 5,
        legend: {
          fromBottom: false, h: 81, first: 11, step: 20,
          items: [
            { kind: 'dot', color: '#1a1aff', label: 'Argo' },
            { kind: 'dot', color: '#12f0f0', label: 'SA2' },
            { kind: 'line', color: '#1530e6', label: 'Argo median' },
            { kind: 'line', color: '#2cc4c4', label: 'SA2 median' }
          ]
        }
      }
    }
  },
  plugins: [panelFrame]
});

// ---------- panel c ----------
const profileFrame = {
  id: 'profileFrame',
  afterDraw(chart, args, o) {
    const { ctx, chartArea: a } = chart;
    const xs = chart.scales.x, ys = chart.scales.y;
    ctx.save();
    ctx.strokeStyle = '#9a9a9a';
    ctx.lineWidth = 1.2;
    ctx.beginPath();
    ctx.moveTo(a.left, a.top); ctx.lineTo(a.right, a.top); ctx.lineTo(a.right, a.bottom);
    depthTicks.forEach(v => {
      const y = ys.getPixelForValue(v);
      ctx.moveTo(a.left, y); ctx.lineTo(a.left + 3, y);
      ctx.moveTo(a.right, y); ctx.lineTo(a.right - 3, y);
    });
    tempTicks.forEach(v => {
      const x = xs.getPixelForValue(v);
      ctx.moveTo(x, a.bottom); ctx.lineTo(x, a.bottom - 3);
      ctx.moveTo(x, a.top); ctx.lineTo(x, a.top + 3);
    });
    ctx.stroke();

    // curly brace above the panel
    const L = a.left - 1, R = a.right, C = (L + R) / 2;
    const yEnd = a.top - 15, yMid = a.top - 24, yTip = a.top - 34;
    ctx.strokeStyle = '#666';
    ctx.lineWidth = 1.3;
    ctx.beginPath();
    ctx.moveTo(L, yEnd);
    ctx.quadraticCurveTo(L, yMid, L + 12, yMid);
    ctx.lineTo(C - 10, yMid);
    ctx.quadraticCurveTo(C, yMid, C, yTip);
    ctx.quadraticCurveTo(C, yMid, C + 10, yMid);
    ctx.lineTo(R - 12, yMid);
    ctx.quadraticCurveTo(R, yMid, R, yEnd);
    ctx.stroke();

    ctx.fillStyle = '#000';
    ctx.font = `bold 15px ${FONT}`;
    ctx.textAlign = 'center';
    ctx.textBaseline = 'middle';
    ctx.fillText(o.label, C, a.top - 10);

    if (o.letter) {
      const lx = a.right - 29, ly = a.top + 5;
      ctx.fillStyle = '#dcdcdc';
      ctx.fillRect(lx, ly, 25, 24);
      ctx.strokeStyle = '#666';
      ctx.strokeRect(lx, ly, 25, 24);
      ctx.fillStyle = '#000';
      ctx.font = `bold 18px ${FONT}`;
      ctx.fillText(o.letter, lx + 12.5, ly + 12);
    }
    ctx.restore();
  }
};

const bandPoly = (temps, spread) => [
  ...profDepth.map((d, k) => ({ x: temps[k] - spread[k], y: d })),
  ...profDepth.map((d, k) => ({ x: temps[k] + spread[k], y: d })).reverse()
];
const mldPoly = [
  { x: mldBand[0], y: depthRange[0] }, { x: mldBand[1], y: depthRange[0] },
  { x: mldBand[1], y: depthRange[1] }, { x: mldBand[0], y: depthRange[1] }
];

const areaLefts = [86, 215, 344, 473, 603, 732];
const overlay = document.getElementById('overlay');
const profileCharts = profileLabels.map((label, i) => {
  const axisW = i === 0 ? 86 : 10;
  const cv = document.createElement('canvas');
  cv.width = axisW + 107 + 2;
  cv.height = 312;
  cv.style.left = (areaLefts[i] - axisW) + 'px';
  cv.style.top = '675px';
  document.body.insertBefore(cv, overlay);
  const shape = (data, color, order) => ({ data, backgroundColor: color, borderWidth: 0, pointRadius: 0,
                                            fill: 'shape', tension: 0, order });
  const prof = (temps, color, w, order) => ({ data: pts(temps, profDepth), borderColor: color, borderWidth: w,
                                               pointRadius: 0, fill: false, tension: 0.3, order });
  return new Chart(cv, {
    type: 'line',
    data: {
      datasets: [
        shape(mldPoly, 'rgba(188,188,252,0.6)', 4),
        shape(bandPoly(grayTemps[i], graySpread[i]), 'rgba(110,110,110,0.33)', 3),
        shape(bandPoly(redTemps[i], redSpread[i]), 'rgba(255,70,70,0.33)', 2),
        prof(grayTemps[i], '#8c8c8c', 1.3, 1),
        prof(redTemps[i], '#ff2616', 2.2, 0)
      ]
    },
    options: {
      responsive: false, devicePixelRatio: 1,
      layout: { padding: { top: 42, right: 2, left: i === 0 ? 0 : 10, bottom: 0 } },
      scales: {
        x: {
          type: 'linear', min: 21, max: 30, offset: false,
          afterFit: s => { s.height = 53; },
          afterBuildTicks: fixedTicks(tempTicks),
          grid: { display: false, drawTicks: false }, border: { display: false },
          ticks: { font: bold(15), padding: 7, autoSkip: false, maxRotation: 0 }
        },
        y: {
          type: 'linear', min: 0, max: 120, reverse: true,
          afterFit: s => { s.width = i === 0 ? 86 : 0; },
          afterBuildTicks: fixedTicks(depthTicks),
          grid: { display: false, drawTicks: false }, border: { display: false },
          ticks: { display: i === 0, font: bold(15), padding: 14 },
          title: { display: i === 0, text: 'Depth [m]', font: bold(18), padding: { top: 15, bottom: 0 } }
        }
      },
      plugins: { profileFrame: { label, letter: i === profileLabels.length - 1 ? 'c' : '' } }
    },
    plugins: [profileFrame]
  });
});

// ---------- dashed connectors from panel b to profile braces ----------
const ov = overlay.getContext('2d');
ov.setLineDash([7, 5]);
ov.strokeStyle = '#8c8c8c';
ov.lineWidth = 1.4;
profileCharts.forEach((c, i) => {
  const xb = layerChart.scales.x.getPixelForValue(connectDays[i]);
  const yb = 315 + layerChart.chartArea.bottom;
  const a = c.chartArea;
  const xt = parseFloat(c.canvas.style.left) + (a.left + a.right) / 2;
  const yt = 675 + a.top - 34;
  ov.beginPath();
  ov.moveTo(xb, yb);
  ov.lineTo(xt, yt);
  ov.stroke();
});
</script>
</body>
</html>
